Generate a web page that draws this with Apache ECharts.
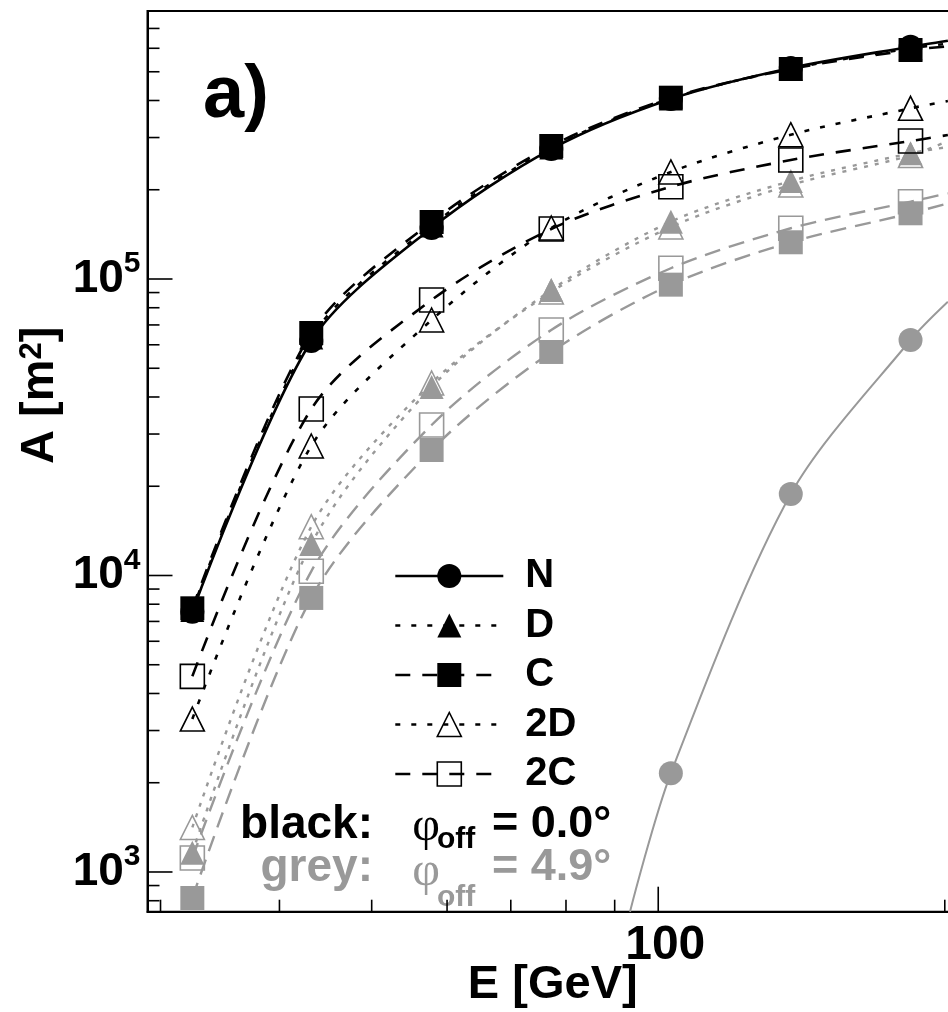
<!DOCTYPE html>
<html><head><meta charset="utf-8">
<script src="https://cdn.jsdelivr.net/npm/echarts@6/dist/echarts.min.js"></script>
<style>html,body{margin:0;padding:0;background:#fff}#c{width:948px;height:1012px}</style>
</head><body><div id="c"></div>
<script>
// ---- data ----
const energies = [32.4, 43.2, 57.8, 77.2, 103.1, 137.8, 184.1];   // E [GeV] of markers
const edgeEnergy = 201.5;                                          // E where curves leave the frame

// black: phi_off = 0.0 deg
const blackN  = [7550, 61800, 148600, 274400, 404700, 514800, 607500];
const blackD  = [7650, 63500, 151500, 277500, 406500, 512000, 600000];
const blackC  = [7750, 65750, 155700, 280900, 408800, 510900, 592000];
const black2D = [3280, 27340, 72730, 148600, 229600, 306700, 376400];
const black2C = [4570, 36430, 84960, 147500, 204800, 251900, 292000];
const blackEdge = {N: 636400, D: 622000, C: 608300, '2D': 398400, '2C': 305900};

// grey: phi_off = 4.9 deg
const greyNEnergies = [93.4, 103.1, 137.8, 184.1];
const greyN  = [735, 2152, 18830, 62270];
const greyD  = [1162, 12770, 43230, 91800, 156100, 214000, 265400];
const grey2D = [1413, 14610, 44590, 90390, 149800, 207500, 260900];
const greyC  = [817, 8400, 26500, 56740, 95700, 133000, 166600];
const grey2C = [1115, 10330, 32180, 67300, 108700, 148300, 182300];
const greyEdge = {N: 83800, D: 278700, C: 180000, '2D': 292000, '2C': 194500};

// axes
const xMin = 29.07, xMax = 206.5;
const yMin = 734.6, yMax = 801500;
const xMajorTicks = [100];
const xMinorTicks = [30, 40, 50, 60, 70, 80, 90, 200];
const yMajorTicks = [1e3, 1e4, 1e5];
const yMinorTicks = [800, 900, 2e3, 3e3, 4e3, 5e3, 6e3, 7e3, 8e3, 9e3,
  2e4, 3e4, 4e4, 5e4, 6e4, 7e4, 8e4, 9e4, 2e5, 3e5, 4e5, 5e5, 6e5, 7e5];

const legendNames = ['N', 'D', 'C', '2D', '2C'];

// ---- styling ----
const BLACK = '#000000', GREY = '#999999';
const FONT = 'Liberation Sans';
const DOT_B = [5, 11], DASH_B = [15, 12];
const DOT_G = [4, 7], DASH_G = [16, 9];

function pts(xs, ys, edge) {
  const d = xs.map((x, i) => [x, ys[i]]);
  if (edge != null) d.push({value: [edgeEnergy, edge], symbol: 'none'});
  return d;
}
function lineSeries(name, data, color, symbol, filled, dash, width) {
  return {
    name, type: 'line', data, symbol, symbolSize: 24,
    smooth: 0.3, clip: true,
    lineStyle: {color, width, type: dash},
    itemStyle: filled ? {color, borderWidth: 0}
                      : {color: 'rgba(0,0,0,0)', borderColor: color, borderWidth: 1.6},
    emphasis: {disabled: true}, animation: false
  };
}
function tickSeries(values, majors, dir) {
  return {
    type: 'custom', silent: true, clip: false, z: 10, animation: false,
    data: values.map(v => dir === 'x' ? [v, 1000] : [100, v]),
    renderItem(params, api) {
      const cs = params.coordSys;
      const v = api.value(dir === 'x' ? 0 : 1);
      const len = majors.includes(v) ? 25 : 12;
      if (dir === 'x') {
        const x = api.coord([v, 1000])[0], y = cs.y + cs.height;
        return {type: 'line', shape: {x1: x, y1: y, x2: x, y2: y - len}, style: {stroke: BLACK, lineWidth: 1.6}};
      }
      const y = api.coord([100, v])[1], x = cs.x;
      return {type: 'line', shape: {x1: x, y1: y, x2: x + len, y2: y}, style: {stroke: BLACK, lineWidth: 1.6}};
    }
  };
}
function isMajor(v, list) { return list.some(t => Math.abs(v / t - 1) < 1e-6); }

const series = [
  lineSeries('grey 2D', pts(energies, grey2D, greyEdge['2D']), GREY, 'triangle', false, DOT_G, 2.4),
  lineSeries('grey D',  pts(energies, greyD,  greyEdge.D),    GREY, 'triangle', true,  DOT_G, 2.4),
  lineSeries('grey 2C', pts(energies, grey2C, greyEdge['2C']), GREY, 'rect', false, DASH_G, 2.4),
  lineSeries('grey C',  pts(energies, greyC,  greyEdge.C),    GREY, 'rect', true,  DASH_G, 2.4),
  (function () {
    const d = greyNEnergies.map((x, i) => i === 0 ? {value: [x, greyN[i]], symbol: 'none'} : [x, greyN[i]]);
    d.push({value: [edgeEnergy, greyEdge.N], symbol: 'none'});
    return lineSeries('grey N', d, GREY, 'circle', true, 'solid', 2);
  })(),
  lineSeries('N',  pts(energies, blackN,  blackEdge.N),    BLACK, 'circle', true, 'solid', 2.6),
  lineSeries('D',  pts(energies, blackD,  blackEdge.D),    BLACK, 'triangle', true, DOT_B, 2.6),
  lineSeries('C',  pts(energies, blackC,  blackEdge.C),    BLACK, 'rect', true, DASH_B, 2.6),
  lineSeries('2D', pts(energies, black2D, blackEdge['2D']), BLACK, 'triangle', false, DOT_B, 2.6),
  lineSeries('2C', pts(energies, black2C, blackEdge['2C']), BLACK, 'rect', false, DASH_B, 2.6),
  tickSeries(xMajorTicks.concat(xMinorTicks), xMajorTicks, 'x'),
  tickSeries(yMajorTicks.concat(yMinorTicks), yMajorTicks, 'y')
];

const legendStyle = {
  N:   {itemStyle: {color: BLACK, borderWidth: 0}, lineStyle: {color: BLACK, width: 2.6, type: 'solid'}},
  D:   {itemStyle: {color: BLACK, borderWidth: 0}, lineStyle: {color: BLACK, width: 2.6, type: DOT_B}},
  C:   {itemStyle: {color: BLACK, borderWidth: 0}, lineStyle: {color: BLACK, width: 2.6, type: DASH_B}},
  '2D':{itemStyle: {color: 'rgba(0,0,0,0)', borderColor: BLACK, borderWidth: 1.6}, lineStyle: {color: BLACK, width: 2.6, type: DOT_B}},
  '2C':{itemStyle: {color: 'rgba(0,0,0,0)', borderColor: BLACK, borderWidth: 1.6}, lineStyle: {color: BLACK, width: 2.6, type: DASH_B}}
};

const chart = echarts.init(document.getElementById('c'), null, {renderer: 'canvas'});
chart.setOption({
  animation: false,
  backgroundColor: '#fff',
  grid: {left: 147.5, top: 11, width: 810.5, height: 900.7, show: true, borderColor: BLACK, borderWidth: 2,
         backgroundColor: 'transparent', containLabel: false, outerBoundsMode: 'none'},
  xAxis: {
    type: 'log', logBase: 10, min: xMin, max: xMax,
    axisLine: {show: true, lineStyle: {color: BLACK, width: 2}},
    axisTick: {show: false}, splitLine: {show: false}, minorTick: {show: false},
    axisLabel: {
      margin: 10, color: BLACK, fontFamily: FONT, fontWeight: 'bold', fontSize: 48,
      padding: [0, 0, 0, 14],
      showMinLabel: true, showMaxLabel: true, hideOverlap: false,
      formatter: v => isMajor(v, xMajorTicks) ? String(Math.round(v)) : ''
    },
    name: 'E [GeV]', nameLocation: 'middle', nameGap: 50, nameMoveOverlap: false,
    nameTextStyle: {color: BLACK, fontFamily: FONT, fontWeight: 'bold', fontSize: 47}
  },
  yAxis: {
    type: 'log', logBase: 10, min: yMin, max: yMax,
    axisLine: {show: true, lineStyle: {color: BLACK, width: 2}},
    axisTick: {show: false}, splitLine: {show: false}, minorTick: {show: false},
    axisLabel: {
      margin: 7, color: BLACK, hideOverlap: false,
      formatter: v => isMajor(v, yMajorTicks) ? '{b|10}{s|' + Math.round(Math.log10(v)) + '}' : '',
      rich: {
        b: {fontFamily: FONT, fontWeight: 'bold', fontSize: 46, lineHeight: 60, color: BLACK},
        s: {fontFamily: FONT, fontWeight: 'bold', fontSize: 30, lineHeight: 30, verticalAlign: 'top', color: BLACK}
      }
    },
    name: 'A [m{s|2}]', nameLocation: 'middle', nameGap: 84, nameRotate: 90, nameMoveOverlap: false,
    nameTextStyle: {
      color: BLACK, fontFamily: FONT, fontWeight: 'bold', fontSize: 47, padding: [0, 0, 0, 132],
      rich: {s: {fontFamily: FONT, fontWeight: 'bold', fontSize: 31, lineHeight: 31, verticalAlign: 'top', color: BLACK}}
    }
  },
  legend: {
    orient: 'vertical', left: 394, top: 556, padding: 0, itemWidth: 108, itemHeight: 30, itemGap: 9.5,
    selectedMode: false,
    textStyle: {fontFamily: FONT, fontWeight: 'bold', fontSize: 40, color: BLACK, padding: [0, 0, 0, 17]},
    data: legendNames.map(n => Object.assign({name: n}, legendStyle[n]))
  },
  graphic: [
    {type: 'text', left: 203, top: 60, silent: true,
     style: {text: 'a)', fontFamily: FONT, fontWeight: 'bold', fontSize: 74, fill: BLACK}},
    {type: 'text', x: 373, y: 825, silent: true,
     style: {text: 'black:', fontFamily: FONT, fontWeight: 'bold', fontSize: 46, fill: BLACK, align: 'right', verticalAlign: 'middle'}},
    {type: 'text', x: 426, y: 827, silent: true,
     style: {text: 'φ', fontFamily: 'Liberation Serif', fontSize: 48, fill: BLACK, align: 'center', verticalAlign: 'middle'}},
    {type: 'text', x: 437, y: 840, silent: true,
     style: {text: 'off', fontFamily: FONT, fontWeight: 'bold', fontSize: 30, fill: BLACK, align: 'left', verticalAlign: 'middle'}},
    {type: 'text', x: 492, y: 825, silent: true,
     style: {text: '= 0.0°', fontFamily: FONT, fontWeight: 'bold', fontSize: 45, fill: BLACK, align: 'left', verticalAlign: 'middle'}},
    {type: 'text', x: 373, y: 868, silent: true,
     style: {text: 'grey:', fontFamily: FONT, fontWeight: 'bold', fontSize: 46, fill: GREY, align: 'right', verticalAlign: 'middle'}},
    {type: 'text', x: 426, y: 872, silent: true,
     style: {text: 'φ', fontFamily: 'Liberation Serif', fontSize: 48, fill: GREY, align: 'center', verticalAlign: 'middle'}},
    {type: 'text', x: 437, y: 898, silent: true,
     style: {text: 'off', fontFamily: FONT, fontWeight: 'bold', fontSize: 30, fill: GREY, align: 'left', verticalAlign: 'middle'}},
    {type: 'text', x: 492, y: 868, silent: true,
     style: {text: '= 4.9°', fontFamily: FONT, fontWeight: 'bold', fontSize: 45, fill: GREY, align: 'left', verticalAlign: 'middle'}}
  ],
  series
});
</script></body></html>
